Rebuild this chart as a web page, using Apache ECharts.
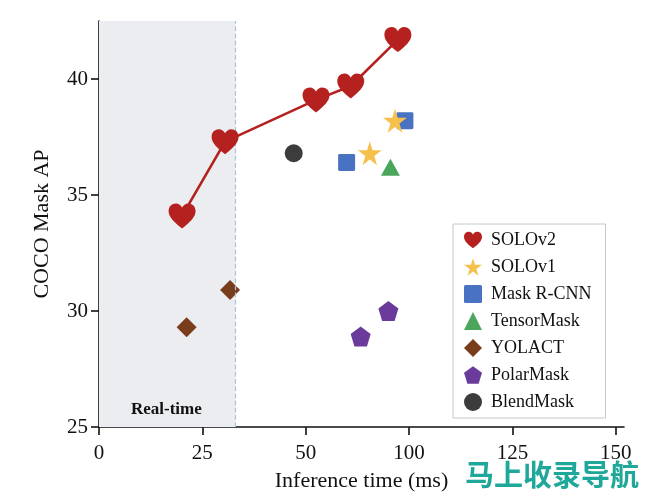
<!DOCTYPE html>
<html>
<head>
<meta charset="utf-8">
<script src="https://cdn.jsdelivr.net/npm/echarts@6/dist/echarts.min.js"></script>
<style>html,body{margin:0;padding:0;background:#fff}#c{width:646px;height:497px}</style>
</head>
<body>
<div id="c"></div>
<script>
// x values are positions on the drawn axis; tick labels as printed in the reference
const xTickPositions = [0, 25, 50, 75, 100, 125];
const xTickLabels = ['0', '25', '50', '100', '125', '150'];
const yTicks = [25, 30, 35, 40];
const realTimeLimit = 33;

const solov2X = [20.1, 30.5, 52.5, 60.9, 72.3];
const solov2Y = [34.1, 37.3, 39.1, 39.7, 41.7];
const solov1X = [65.5, 71.6];
const solov1Y = [36.8, 38.2];
const maskrcnnX = [59.9, 74.0];
const maskrcnnY = [36.4, 38.2];
const tensormaskX = [70.5];
const tensormaskY = [36.2];
const yolactX = [21.2, 31.7];
const yolactY = [29.3, 30.9];
const polarmaskX = [63.3, 70.0];
const polarmaskY = [28.9, 30.0];
const blendmaskX = [47.1];
const blendmaskY = [36.8];

const zip = (xs, ys) => xs.map((x, i) => [x, ys[i]]);
const heart = 'path://M50,92 C22,70 2,52 2,30 C2,13 14,3 28,3 C38,3 46,9 50,18 C54,9 62,3 72,3 C86,3 98,13 98,30 C98,52 78,70 50,92 Z';
const star = 'path://M50,2 L61,37 L98,37 L68,59 L79,95 L50,73 L21,95 L32,59 L2,37 L39,37 Z';
const rsquare = 'path://M10,2 L90,2 Q98,2 98,10 L98,90 Q98,98 90,98 L10,98 Q2,98 2,90 L2,10 Q2,2 10,2 Z';
const pentagon = 'path://M50,2 L98,37 L80,95 L20,95 L2,37 Z';
const serif = '"Liberation Serif", "DejaVu Serif", serif';

const C = {
  solov2: '#b5211f', solov1: '#f5c04b', maskrcnn: '#4a72c2', tensormask: '#4ba65c',
  yolact: '#7a3d1c', polarmask: '#6a3b9a', blendmask: '#3c3c3c'
};

const chart = echarts.init(document.getElementById('c'), null, {renderer: 'canvas'});
chart.setOption({
  animation: false,
  backgroundColor: '#fff',
  grid: {left: 99, top: 21, right: 22, bottom: 69, containLabel: false},
  xAxis: {
    type: 'value', min: 0, max: 127, interval: 25,
    name: 'Inference time (ms)', nameLocation: 'middle', nameGap: 43,
    nameTextStyle: {fontFamily: serif, fontSize: 22, color: '#111'},
    axisLine: {show: true, lineStyle: {color: '#111', width: 1.6}},
    axisTick: {show: true, length: 8, lineStyle: {color: '#111', width: 1.6}, customValues: xTickPositions},
    axisLabel: {fontFamily: serif, fontSize: 21, color: '#111', margin: 16,
      customValues: xTickPositions,
      formatter: v => { const i = xTickPositions.indexOf(v); return i >= 0 ? xTickLabels[i] : ''; }},
    splitLine: {show: false}
  },
  yAxis: {
    type: 'value', min: 25, max: 42.5, interval: 5,
    name: 'COCO Mask AP', nameLocation: 'middle', nameGap: 46, nameRotate: 90,
    nameTextStyle: {fontFamily: serif, fontSize: 22, color: '#111'},
    axisLine: {show: true, lineStyle: {color: '#111', width: 1.6}},
    axisTick: {show: true, length: 8, lineStyle: {color: '#111', width: 1.6}, customValues: yTicks},
    axisLabel: {fontFamily: serif, fontSize: 21, color: '#111', margin: 11, customValues: yTicks},
    splitLine: {show: false}
  },
  legend: {
    orient: 'vertical', left: 453, top: 224,
    backgroundColor: '#fff', borderColor: '#c8c8c8', borderWidth: 1, borderRadius: 0,
    padding: [7, 14, 7, 11],
    itemWidth: 18, itemHeight: 18, itemGap: 9,
    textStyle: {fontFamily: serif, fontSize: 18, color: '#111', padding: [0, 0, 0, 4]},
    data: [
      {name: 'SOLOv2', icon: heart},
      {name: 'SOLOv1', icon: star},
      {name: 'Mask R-CNN', icon: rsquare},
      {name: 'TensorMask', icon: 'triangle'},
      {name: 'YOLACT', icon: 'diamond'},
      {name: 'PolarMask', icon: pentagon},
      {name: 'BlendMask', icon: 'circle'}
    ]
  },
  graphic: [
    {type: 'text', left: 131, top: 401, z: 5,
      style: {text: 'Real-time', fontFamily: serif, fontWeight: 'bold', fontSize: 17, fill: '#111'}},
    {type: 'text', left: 465, top: 460, z: 10,
      style: {text: '马上收录导航', fontFamily: '"Noto Sans CJK SC", sans-serif', fontWeight: 'bold', fontSize: 29, fill: '#1fa89a'}}
  ],
  series: [
    {
      name: 'SOLOv2', type: 'line', data: zip(solov2X, solov2Y), z: 5,
      symbol: heart, symbolSize: [27, 25],
      lineStyle: {color: C.solov2, width: 2.6}, itemStyle: {color: C.solov2, opacity: 1},
      markArea: {silent: true, itemStyle: {color: '#ecedf1', opacity: 1},
        data: [[{xAxis: 0}, {xAxis: realTimeLimit}]]},
      markLine: {silent: true, symbol: 'none', label: {show: false},
        lineStyle: {color: '#a9c1dc', type: 'dashed', width: 1.2, opacity: 1},
        data: [{xAxis: realTimeLimit}]}
    },
    {name: 'SOLOv1', type: 'scatter', data: zip(solov1X, solov1Y), z: 4,
      symbol: star, symbolSize: 24, itemStyle: {color: C.solov1, opacity: 1}},
    {name: 'Mask R-CNN', type: 'scatter', data: zip(maskrcnnX, maskrcnnY), z: 3,
      symbol: rsquare, symbolSize: 17, itemStyle: {color: C.maskrcnn, opacity: 1}},
    {name: 'TensorMask', type: 'scatter', data: zip(tensormaskX, tensormaskY), z: 3,
      symbol: 'triangle', symbolSize: [19, 17], itemStyle: {color: C.tensormask, opacity: 1}},
    {name: 'YOLACT', type: 'scatter', data: zip(yolactX, yolactY), z: 3,
      symbol: 'diamond', symbolSize: [20, 20], itemStyle: {color: C.yolact, opacity: 1}},
    {name: 'PolarMask', type: 'scatter', data: zip(polarmaskX, polarmaskY), z: 3,
      symbol: pentagon, symbolSize: 20, itemStyle: {color: C.polarmask, opacity: 1}},
    {name: 'BlendMask', type: 'scatter', data: zip(blendmaskX, blendmaskY), z: 3,
      symbol: 'circle', symbolSize: 18, itemStyle: {color: C.blendmask, opacity: 1}}
  ]
});
</script>
</body>
</html>
